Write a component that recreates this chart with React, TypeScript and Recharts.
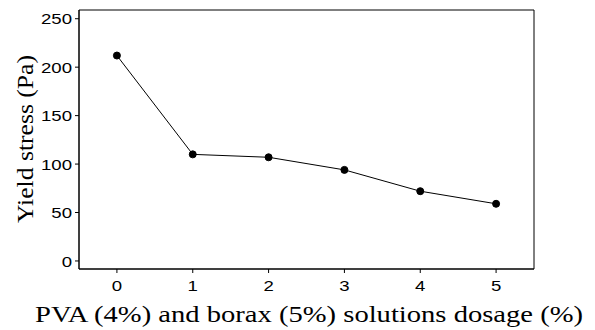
import { Label, Line, LineChart, ReferenceArea, XAxis, YAxis } from "recharts";

const dosage = [0, 1, 2, 3, 4, 5];
const yieldStress = [212, 110, 107, 94, 72, 59];
const yTicks = [0, 50, 100, 150, 200, 250];

const xDomain = [-0.5, 5.5];
const yDomain = [-8.3, 259];

const data = dosage.map((d, i) => ({ dosage: d, stress: yieldStress[i] }));

const tickFont = "Liberation Sans";
const titleFont = "Liberation Serif";

// the original figure's fonts are slightly stretched sideways
function XTick(props: any) {
  const { x, y, payload } = props;
  return (
    <g transform={`translate(${x},${y})`}>
      <text transform="scale(1.2,1)" textAnchor="middle" dy="0.75em" style={{ fontSize: 15.5, fontFamily: tickFont }} fill="#000">
        {payload.value}
      </text>
    </g>
  );
}

function YTick(props: any) {
  const { x, y, payload } = props;
  return (
    <g transform={`translate(${x},${y})`}>
      <text transform="scale(1.2,1)" textAnchor="end" dy="0.36em" style={{ fontSize: 15.5, fontFamily: tickFont }} fill="#000">
        {payload.value}
      </text>
    </g>
  );
}

function XTitle() {
  return (
    <text
      x={309}
      y={322}
      textAnchor="middle"
      style={{ fontSize: 24, fontFamily: titleFont }}
      fill="#000"
      textLength={548}
      lengthAdjust="spacingAndGlyphs"
    >
      PVA (4%) and borax (5%) solutions dosage (%)
    </text>
  );
}

function YTitle() {
  return (
    <text
      x={0}
      y={0}
      transform="translate(33,139) rotate(-90)"
      textAnchor="middle"
      style={{ fontSize: 24, fontFamily: titleFont }}
      fill="#000"
      textLength={168}
      lengthAdjust="spacingAndGlyphs"
    >
      Yield stress (Pa)
    </text>
  );
}

export default function App() {
  return (
    <div style={{ position: "absolute", left: 0, top: 0, width: 595, height: 330, background: "#fff" }}>
      <LineChart width={595} height={330} data={data} margin={{ top: 10, right: 61, bottom: 0, left: 0 }}>
        <XAxis
          dataKey="dosage"
          type="number"
          domain={xDomain}
          ticks={dosage}
          height={61}
          stroke="#000"
          tickSize={4}
          tickMargin={6}
          tick={<XTick />}
          allowDataOverflow
        >
          <Label content={<XTitle />} />
        </XAxis>
        <YAxis
          type="number"
          domain={yDomain}
          ticks={yTicks}
          width={79}
          stroke="#000"
          tickSize={4}
          tickMargin={3}
          tick={<YTick />}
          allowDataOverflow
        >
          <Label content={<YTitle />} />
        </YAxis>
        <ReferenceArea
          x1={xDomain[0]}
          x2={xDomain[1]}
          y1={yDomain[0]}
          y2={yDomain[1]}
          fill="none"
          fillOpacity={0}
          stroke="#000"
          strokeWidth={1}
        />
        <Line
          dataKey="stress"
          stroke="#000"
          strokeWidth={1}
          dot={{ r: 3.5, fill: "#000", stroke: "#000", strokeWidth: 1 }}
          activeDot={false}
          isAnimationActive={false}
        />
      </LineChart>
    </div>
  );
}
